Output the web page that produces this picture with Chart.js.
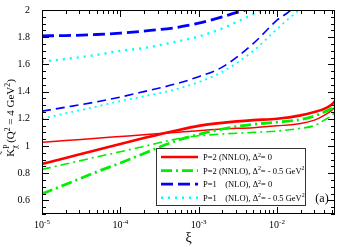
<!DOCTYPE html>
<html>
<head>
<meta charset="utf-8">
<script src="https://cdn.jsdelivr.net/npm/chart.js@4.4.1/dist/chart.umd.min.js"></script>
<style>
  html, body { margin: 0; padding: 0; background: #fff; }
  #wrap { width: 342px; height: 247px; }
</style>
</head>
<body>
<div id="wrap"><canvas id="chart"></canvas></div>
<script>
// xi grid for the P=2 (NNLO) curves
var xi = [1e-5, 2e-5, 5e-5, 1e-4, 2e-4, 5e-4, 1e-3, 2e-3, 5e-3, 1e-2, 2e-2, 3e-2, 4e-2, 5e-2, 5.5e-2];
var redThick   = [0.868, 0.912, 0.970, 1.015, 1.058, 1.112, 1.148, 1.170, 1.190, 1.200, 1.225, 1.250, 1.273, 1.305, 1.330];
var redThin    = [1.027, 1.040, 1.057, 1.070, 1.083, 1.100, 1.113, 1.125, 1.135, 1.148, 1.165, 1.190, 1.225, 1.262, 1.285];
var greenThick = [0.648, 0.717, 0.810, 0.875, 0.945, 1.035, 1.085, 1.125, 1.160, 1.175, 1.195, 1.220, 1.250, 1.275, 1.290];
var greenThin  = [0.828, 0.867, 0.920, 0.958, 0.997, 1.050, 1.075, 1.088, 1.100, 1.110, 1.130, 1.150, 1.190, 1.225, 1.250];

// P=1 (NLO) curves leave the frame at the top, so each has its own xi list
var xiBlueThick = [1e-5, 2e-5, 5e-5, 1e-4, 2e-4, 5e-4, 1e-3, 2e-3, 3e-3, 4e-3, 5e-3];
var blueThick   = [1.810, 1.812, 1.820, 1.830, 1.845, 1.870, 1.903, 1.950, 1.980, 2.000, 2.020];
var xiCyanThick = [1e-5, 2e-5, 5e-5, 1e-4, 2e-4, 5e-4, 1e-3, 2e-3, 5e-3, 7e-3, 8e-3];
var cyanThick   = [1.620, 1.640, 1.670, 1.700, 1.720, 1.765, 1.805, 1.865, 1.970, 2.010, 2.040];
var xiBlueThin  = [1e-5, 2e-5, 5e-5, 1e-4, 2e-4, 5e-4, 1e-3, 2e-3, 5e-3, 1e-2, 1.5e-2, 1.7e-2];
var blueThin    = [1.256, 1.285, 1.325, 1.360, 1.400, 1.455, 1.510, 1.580, 1.755, 1.925, 2.000, 2.040];
var xiCyanThin  = [1e-5, 2e-5, 5e-5, 1e-4, 2e-4, 5e-4, 1e-3, 2e-3, 5e-3, 1e-2, 1.5e-2, 1.9e-2, 2.1e-2];
var cyanThin    = [1.200, 1.240, 1.290, 1.330, 1.365, 1.415, 1.470, 1.545, 1.700, 1.860, 1.950, 2.000, 2.040];

var yTicks = [0.6, 0.8, 1, 1.2, 1.4, 1.6, 1.8, 2];
var xTicks = [1e-5, 1e-4, 1e-3, 1e-2];
var xTickExp = ['-5', '-4', '-3', '-2'];

// legend text: [text, isSuperscript] pieces
var legendText = [
  [['P=2 (NNLO), \u0394', 0], ['2', 1], ['= 0', 0]],
  [['P=2 (NNLO), \u0394', 0], ['2', 1], ['= - 0.5 GeV', 0], ['2', 1]],
  [['P=1    (NLO), \u0394', 0], ['2', 1], ['= 0', 0]],
  [['P=1    (NLO), \u0394', 0], ['2', 1], ['= - 0.5 GeV', 0], ['2', 1]]
];

var SERIF = '"Liberation Serif", "DejaVu Serif", serif';

function pts(xs, ys) {
  var out = [];
  for (var i = 0; i < xs.length; i++) out.push({x: xs[i], y: ys[i]});
  return out;
}

function line(data, color, width, dash) {
  return {
    data: data,
    borderColor: color,
    borderWidth: width,
    borderDash: dash,
    pointRadius: 0,
    fill: false,
    tension: 0.4,
    cubicInterpolationMode: 'monotone'
  };
}

// draws pieces with superscripts, returns end x
function richText(ctx, parts, x, y, size) {
  for (var i = 0; i < parts.length; i++) {
    var sup = parts[i][1];
    ctx.font = (sup ? size * 0.7 : size) + 'px ' + SERIF;
    ctx.fillText(parts[i][0], x, sup ? y - size * 0.4 : y);
    x += ctx.measureText(parts[i][0]).width;
  }
  return x;
}

var framePlugin = {
  id: 'frame',
  afterDraw: function(chart) {
    var ctx = chart.ctx, a = chart.chartArea;
    var xs = chart.scales.x, ys = chart.scales.y;
    ctx.save();
    ctx.strokeStyle = '#000';
    ctx.lineWidth = 1;
    ctx.strokeRect(Math.round(a.left) + 0.5, Math.round(a.top) + 0.5,
                   Math.round(a.right - a.left) - 1, Math.round(a.bottom - a.top) - 1);

    ctx.beginPath();
    // y ticks, inside, both sides
    for (var v = 0.5; v <= 2.0001; v += 0.05) {
      var py = Math.round(ys.getPixelForValue(v)) + 0.5;
      var major = Math.abs(v * 5 - Math.round(v * 5)) < 1e-6;
      var len = major ? 7 : 4;
      ctx.moveTo(a.left, py); ctx.lineTo(a.left + len, py);
      ctx.moveTo(a.right, py); ctx.lineTo(a.right - len, py);
    }
    // x ticks, inside, bottom and top
    for (var d = -5; d <= -2; d++) {
      for (var m = 1; m <= 9; m++) {
        var val = m * Math.pow(10, d);
        if (val > xs.max) break;
        var px = Math.round(xs.getPixelForValue(val)) + 0.5;
        var l = m === 1 ? 7 : 4;
        ctx.moveTo(px, a.bottom); ctx.lineTo(px, a.bottom - l);
        ctx.moveTo(px, a.top); ctx.lineTo(px, a.top + l);
      }
    }
    ctx.stroke();

    // x tick labels 10^n
    ctx.fillStyle = '#000';
    ctx.textBaseline = 'alphabetic';
    for (var i = 0; i < xTicks.length; i++) {
      var cx = xs.getPixelForValue(xTicks[i]);
      ctx.font = '10px ' + SERIF;
      var w1 = ctx.measureText('10').width;
      ctx.font = '7px ' + SERIF;
      var w2 = ctx.measureText(xTickExp[i]).width;
      var x0 = cx - (w1 + w2) / 2;
      richText(ctx, [['10', 0], [xTickExp[i], 1]], x0, a.bottom + 14, 10);
    }

    // x title
    ctx.font = '14px ' + SERIF;
    ctx.textAlign = 'center';
    ctx.fillText('\u03BE', (a.left + a.right) / 2, a.bottom + 28);

    // panel label
    ctx.font = '12px ' + SERIF;
    ctx.fillText('(a)', 322, 202);

    // y title, rotated
    ctx.save();
    ctx.translate(14, (a.top + a.bottom) / 2 + 6);
    ctx.rotate(-Math.PI / 2);
    ctx.textAlign = 'left';
    ctx.font = '11px ' + SERIF;
    var title = [['(Q', 0], ['2', 1], [' = 4 GeV', 0], ['2', 1], [')', 0]];
    var kW = ctx.measureText('K').width;
    var tw = kW + 6;
    for (var j = 0; j < title.length; j++) {
      ctx.font = (title[j][1] ? 7.7 : 11) + 'px ' + SERIF;
      tw += ctx.measureText(title[j][0]).width;
    }
    var tx = -tw / 2;
    ctx.font = '11px ' + SERIF;
    ctx.fillText('K', tx, 0);
    ctx.fillText('\u02DC', tx + 2, -6);
    ctx.font = '7.7px ' + SERIF;
    ctx.fillText('P', tx + kW, -5);
    ctx.fillText('\u03C7', tx + kW, 3);
    richText(ctx, title, tx + kW + 6, 0, 11);
    ctx.restore();

    // legend box
    var bx = 156, by = 148, bw = 149, bh = 57;
    ctx.strokeStyle = '#333';
    ctx.lineWidth = 1;
    ctx.strokeRect(bx + 0.5, by + 0.5, bw, bh);
    ctx.textAlign = 'left';
    for (var k = 0; k < 4; k++) {
      var ds = chart.data.datasets[k];
      var ry = by + 9 + k * 13.6;
      ctx.beginPath();
      ctx.strokeStyle = ds.borderColor;
      ctx.lineWidth = ds.borderWidth;
      ctx.setLineDash(ds.borderDash || []);
      ctx.moveTo(bx + 5, ry);
      ctx.lineTo(bx + 42, ry);
      ctx.stroke();
      ctx.setLineDash([]);
      ctx.fillStyle = '#000';
      richText(ctx, legendText[k], bx + 47, ry + 3, 8.5);
    }
    ctx.restore();
  }
};

var datasets = [
  line(pts(xi, redThick), '#ff0000', 2.6, []),
  line(pts(xi, greenThick), '#00ee00', 2.8, [11, 4, 2, 4]),
  line(pts(xiBlueThick, blueThick), '#0000ff', 2.8, [12, 5]),
  line(pts(xiCyanThick, cyanThick), '#00ffff', 2.4, [2, 5]),
  line(pts(xi, redThin), '#ff0000', 1.5, []),
  line(pts(xi, greenThin), '#00ee00', 1.6, [9, 4, 2, 4]),
  line(pts(xiBlueThin, blueThin), '#0000ff', 1.6, [9, 5]),
  line(pts(xiCyanThin, cyanThin), '#00ffff', 1.8, [2, 4])
];

new Chart(document.getElementById('chart'), {
  type: 'line',
  data: { datasets: datasets },
  plugins: [framePlugin],
  options: {
    responsive: true,
    maintainAspectRatio: false,
    animation: false,
    layout: { padding: { top: 5, right: 7, left: 0, bottom: 0 } },
    plugins: { legend: { display: false }, tooltip: { enabled: false } },
    scales: {
      x: {
        type: 'logarithmic',
        min: 1e-5,
        max: 0.055,
        grid: { display: false },
        border: { display: false },
        ticks: { display: false },
        afterFit: function(s) { s.height = 33; }
      },
      y: {
        type: 'linear',
        min: 0.5,
        max: 2,
        grid: { display: false },
        border: { display: false },
        afterBuildTicks: function(s) {
          s.ticks = yTicks.map(function(v) { return {value: v}; });
        },
        ticks: {
          padding: 4,
          color: '#000',
          font: { family: SERIF, size: 10 },
          callback: function(v) { return String(Math.round(v * 10) / 10); }
        },
        afterFit: function(s) { s.width = 42; }
      }
    }
  }
});
</script>
</body>
</html>
